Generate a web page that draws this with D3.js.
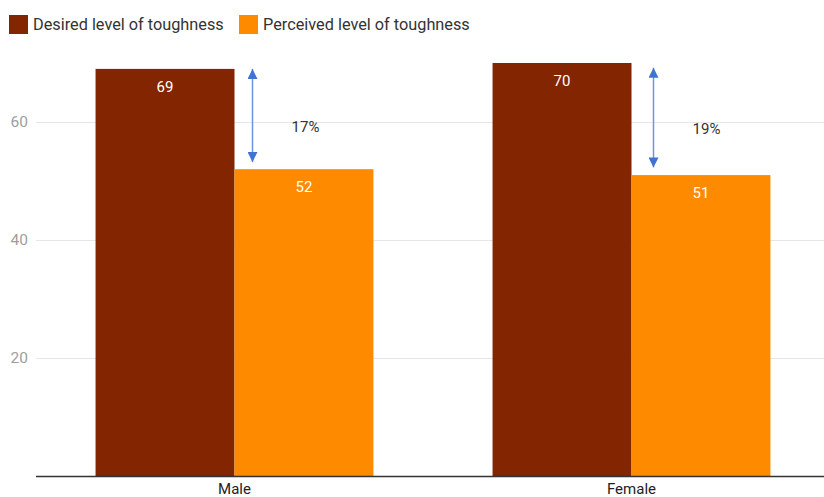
<!DOCTYPE html>
<html>
<head>
<meta charset="utf-8">
<script src="https://cdn.jsdelivr.net/npm/d3@7"></script>
<style>
  html, body { margin: 0; padding: 0; background: #fff; }
  svg { display: block; font-family: Roboto, "Noto Sans", sans-serif; }
</style>
</head>
<body>
<svg id="chart" width="824" height="497"></svg>
<script>
// Survey results: desired vs perceived toughness by gender
const categories = ["Male", "Female"];
const seriesNames = ["Desired level of toughness", "Perceived level of toughness"];
const desired = [69, 70];
const perceived = [52, 51];
const yTicks = [20, 40, 60];
// Gap arrows, drawn between these values on each category
const arrowFrom = [69, 69.2];
const arrowTo = [53.2, 52.3];

const colors = ["#822500", "#fe8a00"];
const svg = d3.select("#chart");
const W = 824, H = 497;
const left = 36, baseY = 476;

const y = d3.scaleLinear().domain([0, 20]).range([baseY, 358]);
const x0 = d3.scaleBand().domain(categories).range([left, 830]).paddingInner(0.3).paddingOuter(0.15);
const x1 = d3.scaleBand().domain(seriesNames).range([0, x0.bandwidth()]);

// grid lines + tick labels
const yAxis = d3.axisLeft(y).tickValues(yTicks).tickSize(-(W - left)).tickPadding(8);
const gy = svg.append("g").attr("transform", `translate(${left},0)`).call(yAxis);
gy.select(".domain").remove();
gy.selectAll(".tick line").attr("stroke", "#e6e6e6").attr("stroke-width", 1);
gy.selectAll(".tick text").attr("fill", "#9e9e9e").attr("font-size", 15.5).attr("font-family", "Roboto, sans-serif");

const rows = categories.map((c, i) => ({ cat: c, vals: [desired[i], perceived[i]] }));

const groups = svg.append("g").selectAll("g").data(rows).join("g")
  .attr("transform", d => `translate(${x0(d.cat)},0)`);

groups.selectAll("rect").data(d => d.vals.map((v, j) => ({ v, s: seriesNames[j], j })))
  .join("rect")
  .attr("x", d => x1(d.s))
  .attr("y", d => y(d.v))
  .attr("width", x1.bandwidth())
  .attr("height", d => baseY - y(d.v))
  .attr("fill", d => colors[d.j]);

groups.selectAll("text.val").data(d => d.vals.map((v, j) => ({ v, s: seriesNames[j] })))
  .join("text")
  .attr("class", "val")
  .attr("x", d => x1(d.s) + x1.bandwidth() / 2)
  .attr("y", d => y(d.v) + 23)
  .attr("text-anchor", "middle")
  .attr("fill", "#fff")
  .attr("font-size", 15)
  .text(d => d.v);

// baseline
svg.append("line").attr("x1", left).attr("x2", W).attr("y1", baseY + 0.5).attr("y2", baseY + 0.5)
  .attr("stroke", "#333").attr("stroke-width", 1.5);

// category labels
svg.append("g").selectAll("text").data(categories).join("text")
  .attr("x", d => x0(d) + x0.bandwidth() / 2)
  .attr("y", 494)
  .attr("text-anchor", "middle")
  .attr("fill", "#222")
  .attr("font-size", 15)
  .text(d => d);

// gap arrows with difference labels
const defs = svg.append("defs");
defs.append("marker").attr("id", "ah").attr("viewBox", "0 0 10 10")
  .attr("refX", 10).attr("refY", 5).attr("markerWidth", 10).attr("markerHeight", 10)
  .attr("markerUnits", "userSpaceOnUse").attr("orient", "auto-start-reverse")
  .append("path").attr("d", "M0,0 L10,5 L0,10 Z").attr("fill", "#3f74d1");

const arrows = categories.map((c, i) => ({
  x: x0(c) + x1(seriesNames[1]) + 18 + (i === 1 ? 4 : 0),
  from: arrowFrom[i], to: arrowTo[i], gap: desired[i] - perceived[i]
}));

svg.append("g").selectAll("line").data(arrows).join("line")
  .attr("x1", d => d.x).attr("x2", d => d.x)
  .attr("y1", d => y(d.from)).attr("y2", d => y(d.to))
  .attr("stroke", "#6d94e0").attr("stroke-width", 1.5)
  .attr("marker-start", "url(#ah)").attr("marker-end", "url(#ah)");

svg.append("g").selectAll("text").data(arrows).join("text")
  .attr("x", d => d.x + 53)
  .attr("y", d => (y(d.from) + y(d.to)) / 2 + 16)
  .attr("text-anchor", "middle")
  .attr("fill", "#333")
  .attr("font-size", 15)
  .text(d => d.gap + "%");

// legend
const legend = svg.append("g");
const legendX = [9, 239];
seriesNames.forEach((s, i) => {
  legend.append("rect").attr("x", legendX[i]).attr("y", 15).attr("width", 19).attr("height", 19)
    .attr("fill", colors[i]);
  legend.append("text").attr("x", legendX[i] + 24).attr("y", 30)
    .attr("fill", "#333").attr("font-size", 16.3).text(s);
});
</script>
</body>
</html>
